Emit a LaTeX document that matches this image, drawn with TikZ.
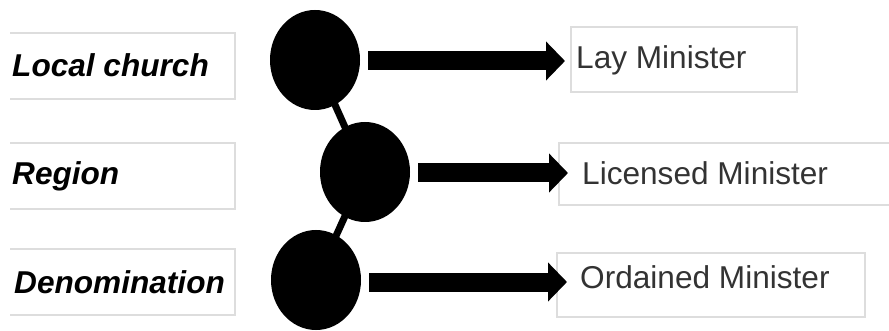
\documentclass[tikz,border=0pt]{standalone}
\usepackage{fontspec}
\setmainfont{Liberation Sans}
\usetikzlibrary{arrows.meta,shapes.geometric}
\definecolor{boxgray}{HTML}{DDDDDD}
\definecolor{txtgray}{HTML}{333333}
\begin{document}
\begin{tikzpicture}[x=1pt,y=-1pt,
  dot/.style={ellipse,fill=black,minimum width=90pt,minimum height=100pt,inner sep=0pt},
  lefttxt/.style={anchor=base west,inner sep=0pt,font=\fontsize{31.6}{32}\selectfont\bfseries\itshape,text=black},
  righttxt/.style={anchor=base west,inner sep=0pt,font=\fontsize{31.6}{32}\selectfont,text=txtgray},
  boxline/.style={draw=boxgray,line width=1.2pt},
  fat/.style={line width=19pt,-{Triangle[width=38pt,length=19pt]}},
  link/.style={line width=7pt}
]
\useasboundingbox (0,0) rectangle (889,331);
% left boxes (no left edge)
\draw[boxline] (10,33) -- (235,33) -- (235,99) -- (10,99);
\draw[boxline] (10,143) -- (235,143) -- (235,209) -- (10,209);
\draw[boxline] (10,249) -- (235,249) -- (235,315) -- (10,315);
\node[lefttxt] (lc) at (12,77) {Local church};
\node[lefttxt] (rg) at (12,185) {Region};
\node[lefttxt] (dn) at (14,293) {Denomination};
% right boxes
\draw[boxline] (571,27) rectangle (797,92);
\draw[boxline] (889,143) -- (559,143) -- (559,205) -- (889,205);
\draw[boxline] (557,253) rectangle (865,317);
\node[righttxt] (lay) at (576,69) {Lay Minister};
\node[righttxt] (lic) at (582,185) {Licensed Minister};
\node[righttxt] (ord) at (580,288) {Ordained Minister};
% circles
\coordinate (p1) at (315,60);
\coordinate (p2) at (365,172);
\coordinate (p3) at (316,280);
\draw[link] (p1) -- (p2) -- (p3);
\node[dot] (c1) at (p1) {};
\node[dot] (c2) at (p2) {};
\node[dot] (c3) at (p3) {};
% arrows
\coordinate (t1) at (565,61);
\coordinate (t2) at (568,173);
\coordinate (t3) at (567,282);
\draw[fat] ([xshift=8pt]c1.east |- t1) -- (t1);
\draw[fat] ([xshift=8pt]c2.east |- t2) -- (t2);
\draw[fat] ([xshift=8pt]c3.east |- t3) -- (t3);
\end{tikzpicture}
\end{document}
